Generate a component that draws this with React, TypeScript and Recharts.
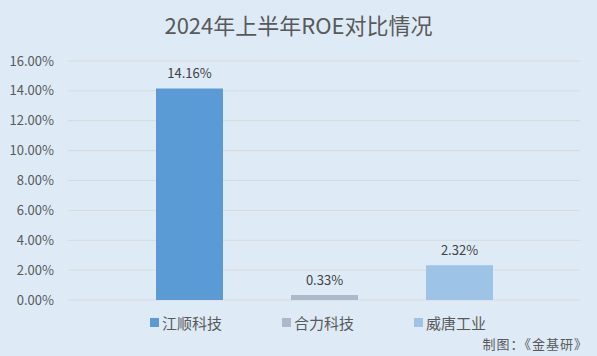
import React from 'react';
import { BarChart, Bar, XAxis, YAxis, CartesianGrid, LabelList } from 'recharts';

const companies = ['江顺科技', '合力科技', '威唐工业'];
const roeValues = [14.16, 0.33, 2.32];
const colors = ['#5B9BD5', '#ADB9CA', '#9DC3E6'];
const yTicks = [0, 2, 4, 6, 8, 10, 12, 14, 16];

const row: Record<string, number | string> = { period: '2024H1' };
companies.forEach((c, i) => {
  row[c] = roeValues[i];
});
const data = [row];

const font = '"Noto Sans CJK SC", "Noto Sans", sans-serif';
const pct = (v: number) => `${v.toFixed(2)}%`;

const App: React.FC = () => {
  return (
    <div
      style={{
        position: 'absolute',
        left: 0,
        top: 0,
        width: 597,
        height: 356,
        background: '#DEEBF7',
        fontFamily: font,
        overflow: 'hidden',
      }}
    >
      <div
        style={{
          position: 'absolute',
          top: 9,
          left: 0,
          width: 597,
          textAlign: 'center',
          fontSize: 22,
          lineHeight: '30px',
          color: '#595959',
        }}
      >
        2024年上半年ROE对比情况
      </div>
      <BarChart
        width={597}
        height={356}
        data={data}
        margin={{ top: 61, right: 17, left: 0, bottom: 56 }}
        barGap={68}
      >
        <CartesianGrid vertical={false} stroke="#D9D9D9" />
        <XAxis dataKey="period" hide />
        <YAxis
          width={68}
          domain={[0, 16]}
          ticks={yTicks}
          tickFormatter={pct}
          axisLine={false}
          tickLine={false}
          tickSize={0}
          tickMargin={14}
          tick={{ fill: '#595959', fontSize: 13, fontFamily: font }}
          interval={0}
        />
        {companies.map((c, i) => (
          <Bar key={c} dataKey={c} fill={colors[i]} barSize={67} isAnimationActive={false}>
            <LabelList
              dataKey={c}
              position="top"
              offset={10}
              formatter={(v: any) => pct(Number(v))}
              style={{ fill: '#404040', fontSize: 13, fontFamily: font }}
            />
          </Bar>
        ))}
      </BarChart>
      <div style={{ position: 'absolute', top: 311, left: 0, width: 597, height: 22 }}>
        {companies.map((c, i) => (
          <div
            key={c}
            style={{
              position: 'absolute',
              left: 150 + i * 132,
              top: 0,
              display: 'flex',
              alignItems: 'center',
              height: 22,
              fontSize: 15,
              color: '#595959',
            }}
          >
            <span style={{ width: 9, height: 9, background: colors[i], marginRight: 3, display: 'inline-block' }} />
            {c}
          </div>
        ))}
      </div>
      <div
        style={{
          position: 'absolute',
          right: 9,
          top: 334,
          fontSize: 13,
          letterSpacing: 1,
          color: '#595959',
        }}
      >
        制图：《金基研》
      </div>
    </div>
  );
};

export default App;
